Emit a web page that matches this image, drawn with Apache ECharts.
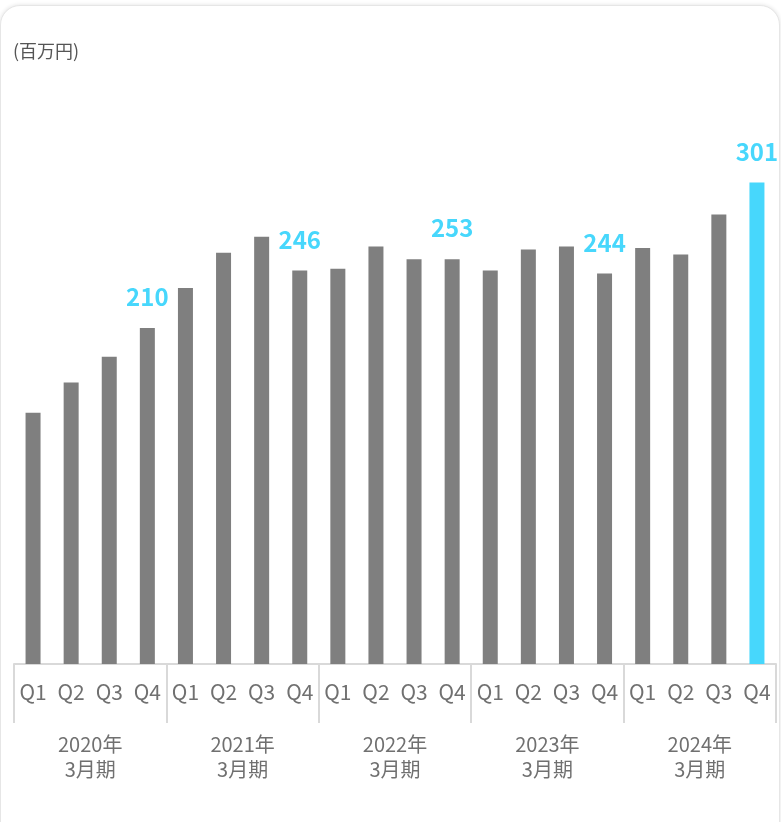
<!DOCTYPE html>
<html>
<head>
<meta charset="utf-8">
<script src="https://cdn.jsdelivr.net/npm/echarts@6/dist/echarts.min.js"></script>
<style>
  html, body { margin: 0; padding: 0; background: #fff; }
  .card {
    position: absolute; left: 0; top: 5px; width: 778px; height: 860px;
    border: 1px solid #e6e6e6; border-radius: 20px;
    box-shadow: 0 0 4px rgba(0, 0, 0, 0.12); background: #fff;
  }
  #chart { position: absolute; left: 0; top: 0; width: 781px; height: 822px; }
</style>
</head>
<body>
<div class="card"></div>
<div id="chart"></div>
<script>
// quarters and fiscal years
const quarters = ["Q1", "Q2", "Q3", "Q4"];
const years = ["2020年\n3月期", "2021年\n3月期", "2022年\n3月期", "2023年\n3月期", "2024年\n3月期"];
// 百万円
const sales = [
  157, 176, 192, 210,
  235, 257, 267, 246,
  247, 261, 253, 253,
  246, 259, 261, 244,
  260, 256, 281, 301
];

const grey = "#7f7f7f";
const cyan = "#47d7fc";
const lineColor = "#d9d9d9";

const categories = [];
years.forEach(() => quarters.forEach(q => categories.push(q)));

const barData = sales.map((v, i) => {
  const isQ4 = i % 4 === 3;
  const isLast = i === sales.length - 1;
  return {
    value: v,
    itemStyle: { color: isLast ? cyan : grey },
    label: { show: isQ4 }
  };
});

const chart = echarts.init(document.getElementById("chart"));
chart.setOption({
  animation: false,
  backgroundColor: "transparent",
  title: {
    text: "(百万円)",
    left: 8,
    top: 37,
    textStyle: {
      fontFamily: "Noto Sans CJK JP",
      fontSize: 18,
      fontWeight: "normal",
      color: "#555"
    }
  },
  grid: { left: 14, right: 5, top: 120, bottom: 158, containLabel: false },
  xAxis: [
    {
      type: "category",
      data: categories,
      axisLine: { lineStyle: { color: lineColor, width: 2 } },
      axisTick: { show: false },
      axisLabel: {
        interval: 0,
        margin: 18,
        fontFamily: "Noto Sans CJK JP",
        fontSize: 21,
        color: "#707070"
      }
    },
    {
      type: "category",
      position: "bottom",
      data: years,
      axisLine: { show: false },
      axisTick: {
        show: true,
        length: 59,
        interval: 0,
        lineStyle: { color: lineColor, width: 2 }
      },
      axisLabel: {
        interval: 0,
        margin: 68,
        lineHeight: 25,
        fontFamily: "Noto Sans CJK JP",
        fontSize: 20,
        color: "#707070"
      }
    }
  ],
  yAxis: {
    type: "value",
    min: 0,
    max: 340,
    show: false,
    splitLine: { show: false }
  },
  series: [
    {
      type: "bar",
      xAxisIndex: 0,
      data: barData,
      barWidth: 15,
      label: {
        position: "top",
        distance: 19,
        fontFamily: "Noto Sans CJK JP",
        fontSize: 24,
        fontWeight: "bold",
        color: cyan
      }
    }
  ]
});
</script>
</body>
</html>
